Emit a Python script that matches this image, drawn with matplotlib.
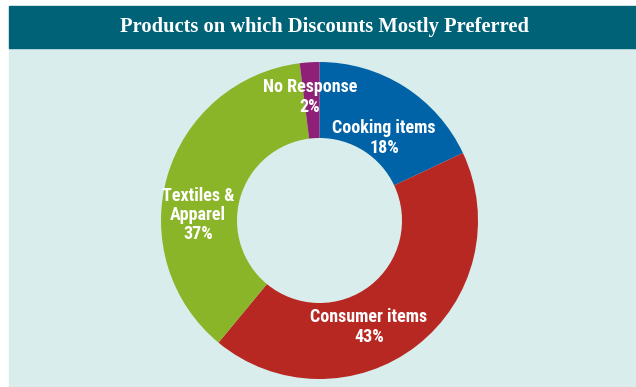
import matplotlib.pyplot as plt
from matplotlib.patches import Rectangle

# dati della ciambella
categories = ["Cooking items", "Consumer items", "Textiles &\nApparel", "No Response"]
shares = [18, 43, 37, 2]
colors = ["#0063A8", "#B82822", "#8AB528", "#8E2177"]
title = "Products on which Discounts Mostly Preferred"

# posizioni delle etichette (pixel, origine in basso a sinistra)
label_pos = [(384, 249), (369, 60), (198, 172), (310, 290)]

fig = plt.figure(figsize=(6.36, 3.87), dpi=100)
ax = fig.add_axes([0, 0, 1, 1])

# sfondo: pannello chiaro e barra del titolo
ax.add_patch(Rectangle((9, 0), 627, 339, color="#D9EDEC", zorder=0))
ax.add_patch(Rectangle((9, 339), 627, 42, color="#006276", zorder=0))
ax.text(324, 360, title, color="white", fontsize=14.8, fontweight="bold",
        family=["Liberation Serif", "DejaVu Serif"], ha="center", va="center")

ax.pie(shares, colors=colors, startangle=90, counterclock=False,
       center=(319.5, 166.5), radius=158.5, frame=True,
       wedgeprops=dict(width=76, linewidth=0))
ax.set_xlim(0, 636)
ax.set_ylim(0, 387)
ax.set_aspect("equal")
ax.axis("off")

for name, val, (x, y) in zip(categories, shares, label_pos):
    ax.text(x, y, f"{name}\n{val}%", color="white", fontsize=13, fontweight="bold",
            family=["Roboto Condensed", "Liberation Sans"],
            ha="center", va="center", linespacing=1.1)

fig.savefig("out.png", dpi=100)
